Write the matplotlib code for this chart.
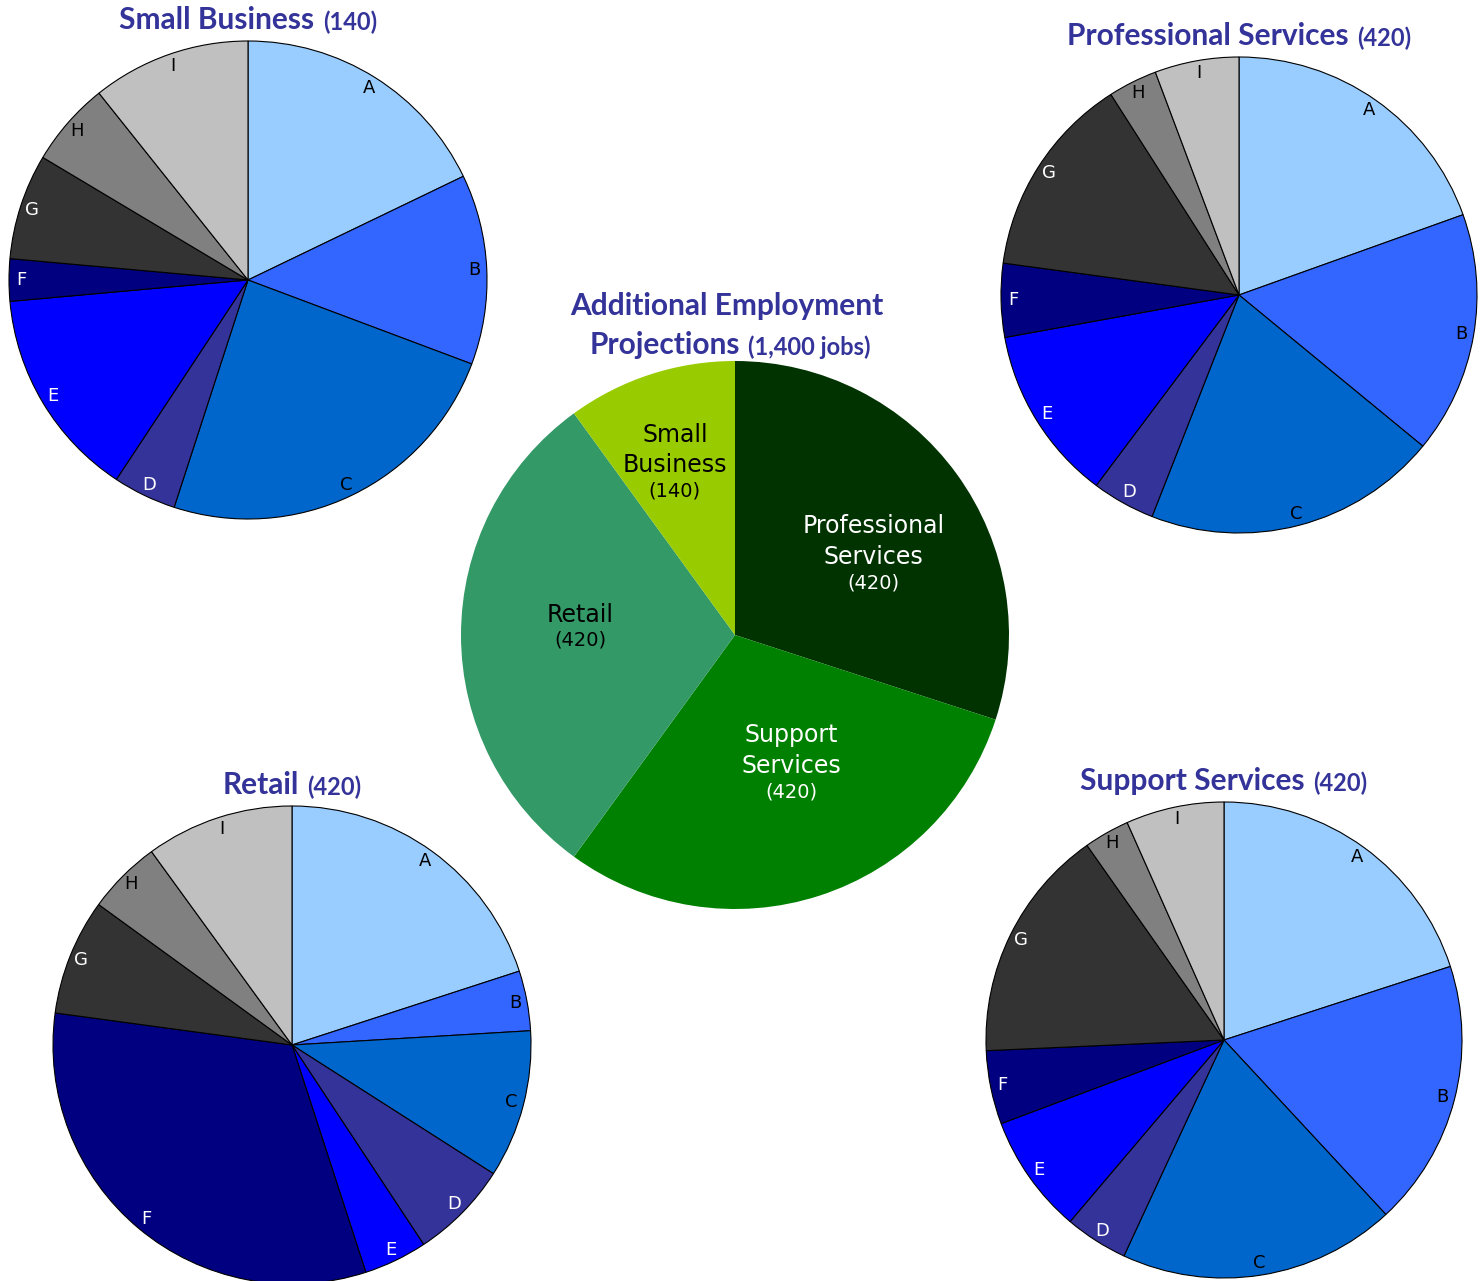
import numpy as np
import matplotlib
matplotlib.use('Agg')
import matplotlib.pyplot as plt

# dados
letras = ['A', 'B', 'C', 'D', 'E', 'F', 'G', 'H', 'I']
cores_letras = ['#99CCFF', '#3366FF', '#0066CC', '#333399', '#0000FF',
                '#000080', '#333333', '#808080', '#C0C0C0']
cor_texto_letras = ['black', 'black', 'black', 'white', 'white',
                    'white', 'white', 'black', 'black']

setores = ['Professional Services', 'Support Services', 'Retail', 'Small Business']
setores_rotulo = ['Professional\nServices', 'Support\nServices', 'Retail', 'Small\nBusiness']
empregos = [420, 420, 420, 140]
cores_setores = ['#003300', '#008000', '#339966', '#99CC00']
cor_texto_setores = ['white', 'white', 'black', 'black']

small_business = [25, 18, 34, 6, 20, 4, 10, 8, 15]
professional = [82, 69, 84, 18, 50, 21, 58, 14, 24]
retail = [84, 17, 42, 28, 18, 135, 33, 21, 42]
support = [84, 76, 79, 18, 34, 21, 67, 13, 28]

W, H = 1483, 1281
TITLE_COLOR = '#333399'

fig = plt.figure(figsize=(W / 100, H / 100), dpi=100)
ax = fig.add_axes([0, 0, 1, 1])
ax.set_xlim(0, W)
ax.set_ylim(0, H)
ax.set_aspect('equal')
ax.axis('off')

titulos = []


def titulo(x, y, grande, pequeno):
    t1 = ax.text(x, y, grande, ha='left', va='center', fontsize=21.5,
                 fontweight='bold', color=TITLE_COLOR, family='Lato')
    t2 = ax.annotate(pequeno, xy=(1, 0), xycoords=t1, xytext=(6, 0),
                     textcoords='offset points', ha='left', va='bottom',
                     fontsize=17, fontweight='bold', color=TITLE_COLOR, family='Lato')
    titulos.append((x, t1, t2))


def pizza_detalhe(valores, cx, cy, r, nome, total):
    cy = H - cy
    wedges, _ = ax.pie(valores, colors=cores_letras, startangle=90, counterclock=False,
                       center=(cx, cy), radius=r,
                       wedgeprops=dict(edgecolor='black', linewidth=0.8))
    for w, letra, c in zip(wedges, letras, cor_texto_letras):
        ang = np.deg2rad((w.theta1 + w.theta2) / 2)
        ax.text(cx + 0.95 * r * np.cos(ang), cy + 0.95 * r * np.sin(ang), letra,
                ha='center', va='center', fontsize=13, color=c, family='DejaVu Sans')
    titulo(cx, cy + r + 21, nome, '(' + str(total) + ')')


# pizza central
cx, cy, r = 735, H - 635, 274
wedges, _ = ax.pie(empregos, colors=cores_setores, startangle=90, counterclock=False,
                   center=(cx, cy), radius=r, wedgeprops=dict(linewidth=0))
dist = [0.61, 0.47, 0.57, 0.71]
desvio = [-2, 8, -7.5, 0]
for w, rot, n, c, d, dv in zip(wedges, setores_rotulo, empregos, cor_texto_setores, dist, desvio):
    ang = np.deg2rad((w.theta1 + w.theta2) / 2 + dv)
    t = ax.text(cx + d * r * np.cos(ang), cy + d * r * np.sin(ang), rot,
                ha='center', va='center', fontsize=17, color=c, family='DejaVu Sans',
                linespacing=1.35)
    ax.annotate('(' + str(n) + ')', xy=(0.5, 0), xycoords=t, xytext=(0, -3),
                textcoords='offset points', ha='center', va='top', fontsize=14,
                color=c, family='DejaVu Sans')

ax.text(cx - 8, cy + r + 55, 'Additional Employment', ha='center', va='center',
        fontsize=21.5, fontweight='bold', color=TITLE_COLOR, family='Lato')
titulo(cx - 5, cy + r + 16, 'Projections', '(1,400 jobs)')

pizza_detalhe(small_business, 248, 280, 239, 'Small Business', sum(small_business))
pizza_detalhe(professional, 1239, 295, 238, 'Professional Services', sum(professional))
pizza_detalhe(retail, 292, 1045, 239, 'Retail', sum(retail))
pizza_detalhe(support, 1224, 1040, 238, 'Support Services', sum(support))

ax.set_xlim(0, W)
ax.set_ylim(0, H)

# centralizando os titulos de duas partes
fig.canvas.draw()
renderer = fig.canvas.get_renderer()
for x, t1, t2 in titulos:
    b1 = t1.get_window_extent(renderer)
    b2 = t2.get_window_extent(renderer)
    largura = b2.x1 - b1.x0
    t1.set_x(x - largura / 2)

fig.savefig('out.png', dpi=100)
